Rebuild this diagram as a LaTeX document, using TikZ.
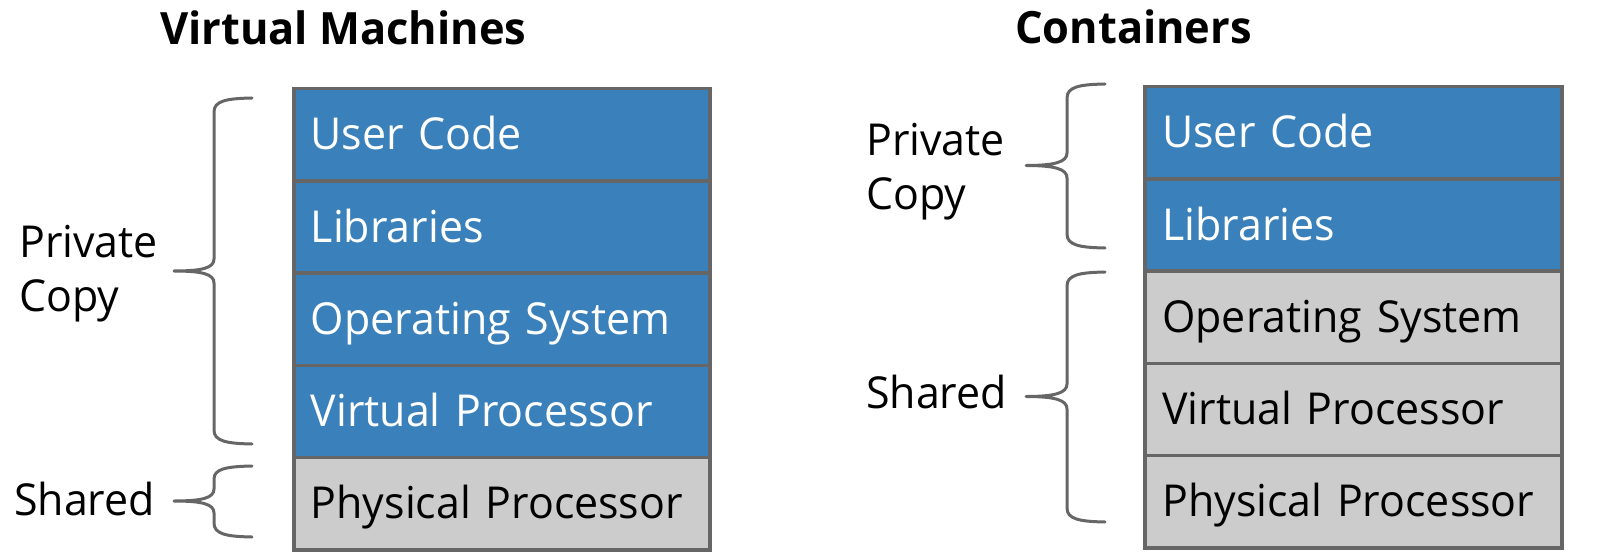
\documentclass[tikz,border=0pt]{standalone}
\usepackage{fontspec}
\setmainfont{Open Sans}[FakeStretch=0.975]
\definecolor{boxblue}{RGB}{58,128,186}
\definecolor{boxgray}{RGB}{204,204,204}
\definecolor{edgegray}{RGB}{102,102,102}
\begin{document}
\begin{tikzpicture}[x=1pt,y=-1pt,
  row/.style={draw=edgegray,line width=3.5pt,minimum width=416pt,minimum height=92.2pt,
    inner xsep=17pt,inner ysep=0pt,text width=382pt,align=left,text height=30pt,text depth=0pt,
    anchor=north west,font=\fontsize{44}{52}\selectfont},
  priv/.style={row,fill=boxblue,text=white},
  shrd/.style={row,fill=boxgray,text=black},
  lbl/.style={anchor=base west,inner sep=0pt,font=\fontsize{44}{54}\selectfont},
  ttl/.style={anchor=base west,inner sep=0pt,font=\fontsize{44.5}{54}\selectfont\bfseries},
  brace/.style={draw=edgegray,line width=3pt,line cap=round,line join=round}]
\useasboundingbox (0,0) rectangle (1600,556);
% titles
\node[ttl] (t1) at (160,44.5) {Virtual Machines};
\node[ttl] (t2) at (1015,44) {Containers};
% left stack
\node[priv] (l1) at (292,87) {\mbox{User Code}};
\node[priv] (l2) at (292,179.2) {\mbox{Libraries}};
\node[priv] (l3) at (292,271.4) {\mbox{Operating System}};
\node[priv] (l4) at (292,363.6) {\mbox{Virtual Processor}};
\node[shrd] (l5) at (292,455.8) {\mbox{Physical Processor}};
% right stack
\node[priv,minimum width=417pt] (r1) at (1143,85) {\mbox{User Code}};
\node[priv,minimum width=417pt] (r2) at (1143,177.2) {\mbox{Libraries}};
\node[shrd,minimum width=417pt] (r3) at (1143,269.4) {\mbox{Operating System}};
\node[shrd,minimum width=417pt] (r4) at (1143,361.6) {\mbox{Virtual Processor}};
\node[shrd,minimum width=417pt] (r5) at (1143,453.8) {\mbox{Physical Processor}};
% labels
\node[lbl] (lp1) at (19,257) {Private};
\node[lbl] (lp2) at (19,311) {Copy};
\node[lbl] (ls) at (14,515) {Shared};
\node[lbl] (rp1) at (866,155.5) {Private};
\node[lbl] (rp2) at (866,209.5) {Copy};
\node[lbl] (rs) at (866,408.5) {Shared};
% braces
\draw[brace] (252,98) .. controls (226,98.5) and (214,101) .. (214,112) -- (214,259)
  .. controls (214,268) and (202,271) .. (174,271)
  .. controls (202,271) and (214,274) .. (214,283) -- (214,430)
  .. controls (214,441) and (226,443.5) .. (252,444);
\draw[brace] (252,466) .. controls (226,466.5) and (214,469) .. (214,479) -- (214,489)
  .. controls (214,498) and (202,501) .. (174,501)
  .. controls (202,501) and (214,504) .. (214,513) -- (214,523)
  .. controls (214,534) and (226,536.5) .. (252,537);
\draw[brace] (1105,84) .. controls (1079,84.5) and (1067,87) .. (1067,98) -- (1067,153)
  .. controls (1067,162) and (1055,165.5) .. (1026,165.5)
  .. controls (1055,165.5) and (1067,169) .. (1067,178) -- (1067,234)
  .. controls (1067,245) and (1079,247.5) .. (1105,248);
\draw[brace] (1105,272) .. controls (1079,272.5) and (1067,275) .. (1067,286) -- (1067,384)
  .. controls (1067,393) and (1055,396.5) .. (1026,396.5)
  .. controls (1055,396.5) and (1067,400) .. (1067,409) -- (1067,508)
  .. controls (1067,519) and (1079,521.5) .. (1105,522);
\end{tikzpicture}
\end{document}
